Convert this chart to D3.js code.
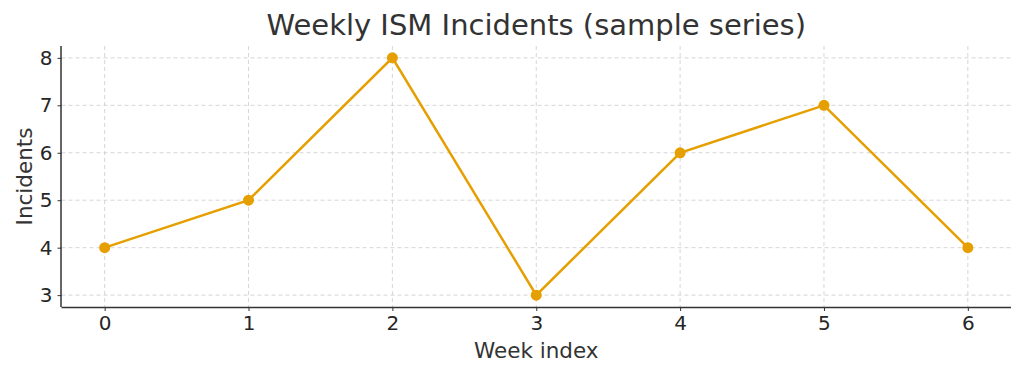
<!DOCTYPE html>
<meta charset="utf-8">
<script src="https://d3js.org/d3.v7.min.js"></script>
<style>
  body { margin: 0; background: #fff; }
  text { font-family: "DejaVu Sans", sans-serif; fill: #333; }
  .grid line { stroke: #cccccc; stroke-dasharray: 4,3; stroke-width: 0.8; }
</style>
<body>
<svg id="chart" width="1024" height="376"></svg>
<script>
  // data
  var weeks = [0, 1, 2, 3, 4, 5, 6];
  var incidents = [4, 5, 8, 3, 6, 7, 4];
  var yTicks = [3, 4, 5, 6, 7, 8];

  var svg = d3.select("#chart");
  var margin = { left: 61.5, right: 13, top: 46, bottom: 69 };
  var width = 1024 - margin.left - margin.right,
      height = 376 - margin.top - margin.bottom;

  var g = svg.append("g").attr("transform", "translate(" + margin.left + "," + margin.top + ")");

  var x = d3.scaleLinear().domain([-0.3, 6.3]).range([0, width]);
  var y = d3.scaleLinear().domain([2.75, 8.25]).range([height, 0]);

  // grid
  g.append("g").attr("class", "grid")
    .selectAll("line.v").data(weeks).enter().append("line")
    .attr("x1", d => x(d)).attr("x2", d => x(d))
    .attr("y1", 0).attr("y2", height);
  g.append("g").attr("class", "grid")
    .selectAll("line.h").data(yTicks).enter().append("line")
    .attr("x1", 0).attr("x2", width)
    .attr("y1", d => y(d)).attr("y2", d => y(d));

  // axes
  var xAxis = g.append("g").attr("transform", "translate(0," + height + ")")
    .call(d3.axisBottom(x).tickValues(weeks).tickFormat(d3.format("d")).tickSize(4).tickPadding(5));
  var yAxis = g.append("g")
    .call(d3.axisLeft(y).tickValues(yTicks).tickFormat(d3.format("d")).tickSize(4).tickPadding(5));

  [xAxis, yAxis].forEach(function (a) {
    a.attr("font-size", null).attr("font-family", null);
    a.select(".domain").attr("stroke", "#333").attr("stroke-width", 1.5);
    a.selectAll(".tick line").attr("stroke", "#333").attr("stroke-width", 1);
    a.selectAll(".tick text").style("font-size", "20px").style("fill", "#262626");
  });
  // keep the spine spans matplotlib-like (no outer ticks)
  xAxis.select(".domain").attr("d", "M0,0.5H" + width);
  yAxis.select(".domain").attr("d", "M-0.5,0V" + height);

  // line + markers
  var line = d3.line().x((d, i) => x(weeks[i])).y(d => y(d));
  g.append("path").datum(incidents)
    .attr("d", line)
    .attr("fill", "none")
    .attr("stroke", "#E69F00")
    .attr("stroke-width", 2.5);
  g.selectAll("circle").data(incidents).enter().append("circle")
    .attr("cx", (d, i) => x(weeks[i]))
    .attr("cy", d => y(d))
    .attr("r", 5.5)
    .attr("fill", "#E69F00");

  // labels
  svg.append("text")
    .attr("x", margin.left + width / 2).attr("y", 35)
    .attr("text-anchor", "middle")
    .style("font-size", "29px")
    .text("Weekly ISM Incidents (sample series)");
  svg.append("text")
    .attr("x", margin.left + width / 2).attr("y", 358)
    .attr("text-anchor", "middle")
    .style("font-size", "21.5px")
    .text("Week index");
  svg.append("text")
    .attr("transform", "translate(32," + (margin.top + height / 2) + ") rotate(-90)")
    .attr("text-anchor", "middle")
    .style("font-size", "21.5px")
    .text("Incidents");
</script>
</body>
